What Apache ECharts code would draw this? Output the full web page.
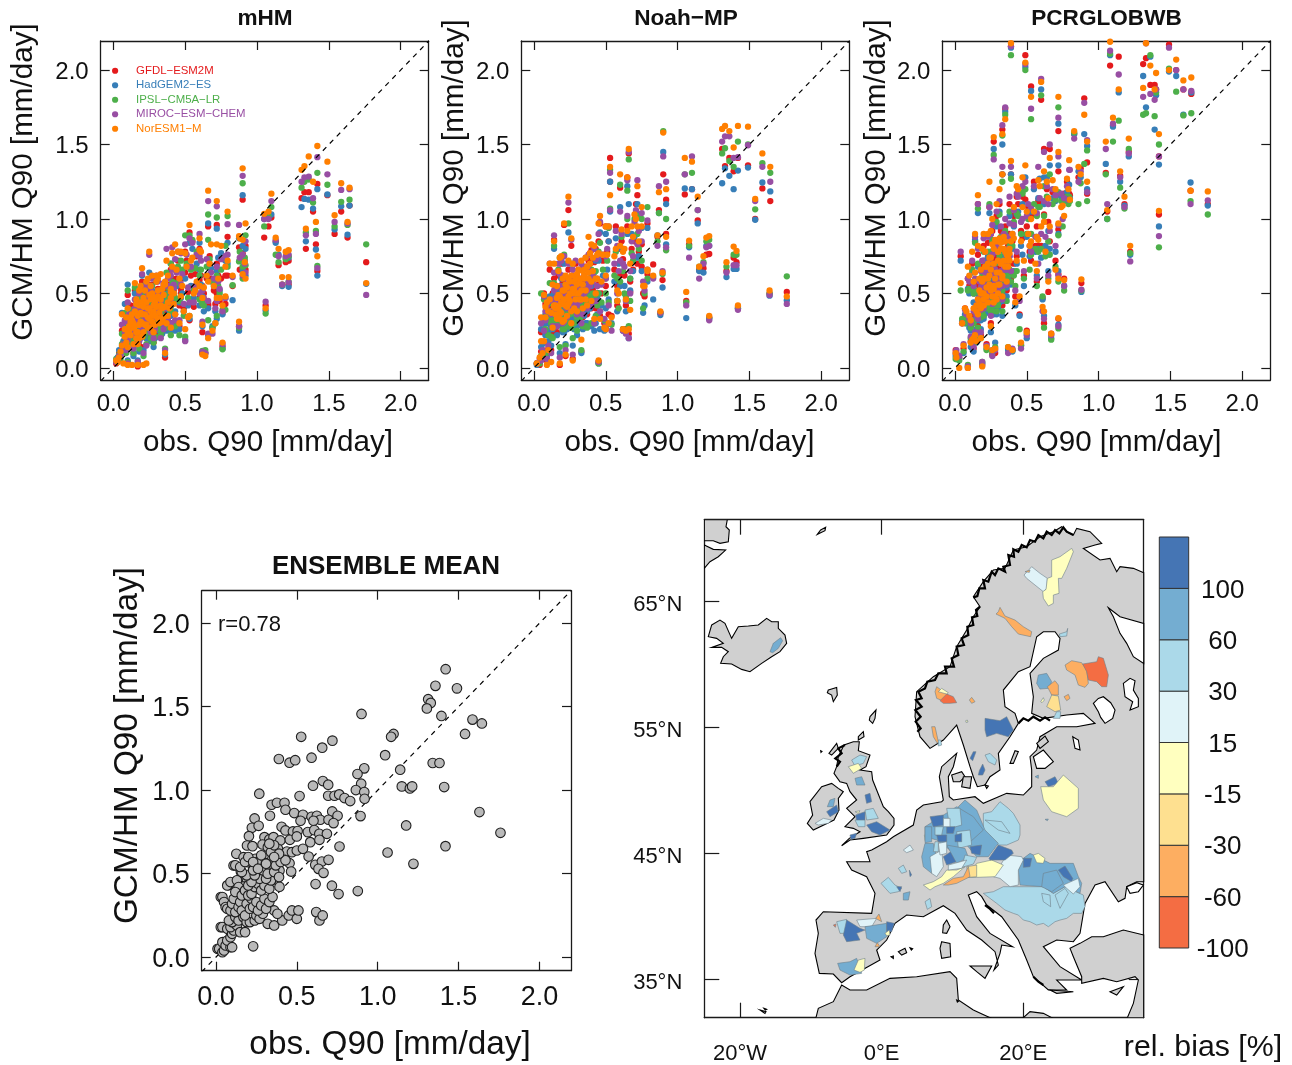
<!DOCTYPE html>
<html><head><meta charset="utf-8">
<style>html,body{margin:0;padding:0;background:#fff}#c{width:1292px;height:1065px}</style>
<script src="https://cdn.jsdelivr.net/npm/echarts@6/dist/echarts.min.js"></script>
</head><body><div id="c"></div>
<script>
// ---------- labels ----------
const models=['GFDL\u2212ESM2M','HadGEM2\u2212ES','IPSL\u2212CM5A\u2212LR','MIROC\u2212ESM\u2212CHEM','NorESM1\u2212M'];
const modelColors=['#e41a1c','#377eb8','#4daf4a','#984ea3','#ff7f00'];
const q90Ticks=[0,0.5,1,1.5,2];
const binLabels=['-100','-60','-30','-15','15','30','60','100',''];
const binColors=['#f46d43','#fdae61','#fee090','#ffffbf','#e0f3f8','#abd9e9','#74add1','#4575b4'];
const lonTicks=[-20,0,20], lonLabels=['20\u00b0W','0\u00b0E','20\u00b0E'];
const latTicks=[35,45,55,65];
// ---------- Q90: [obs, GFDL, HadGEM2, IPSL, MIROC, NorESM] ----------
const mHM=[
[1.76,.71,.565,.83,.49,.57],[1.644,1.09,1.09,1.13,1.2,1.21],[1.63,.875,.895,.96,.97,.98],[1.586,1.05,1.085,1.115,1.195,1.24],[1.54,.9,.93,.95,.98,1.025],[1.49,1.16,1.165,1.23,1.3,1.385],
[1.42,1.235,1.2,1.31,1.415,1.49],[1.42,.65,.62,.685,.67,.75],[1.41,.83,.795,.92,.9,.98],[1.39,1.05,1.07,1.11,1.14,1.25],[1.36,1.18,1.13,1.265,1.285,1.42],[1.34,.8,.85,.91,.89,.935],[1.33,1.18,1.135,1.25,1.28,1.355],[1.31,1.14,1.08,1.21,1.25,1.33],
[1.22,.72,.74,.75,.76,.79],[1.22,.56,.545,.58,.575,.61],[1.2,.71,.74,.73,.75,.78],[1.175,.56,.55,.56,.56,.61],[1.13,.85,.84,.76,.86,.875],[1.15,.69,.76,.71,.75,.8],[1.1,1.01,1.03,1.08,1.12,1.17],[1.08,.95,1.01,1.02,1,1.05],[1.05,.875,1,.95,1,1.035],[1.06,.42,.385,.365,.445,.4],
[.92,.82,.8,.89,.85,.97],[.9,1.13,1.16,1.24,1.29,1.34],[.92,.66,.62,.69,.64,.6],[.915,.7,.72,.74,.7,.71],[.875,.28,.25,.27,.28,.31],[.875,.81,.87,.715,.96,.885],[.9,.77,.66,.6,.62,.63],[.83,.55,.455,.555,.61,.62],[.795,.88,.84,1.02,.965,1.05],[.795,.62,.7,.68,.76,.72],[.78,.43,.47,.39,.47,.48],
[.76,.145,.13,.125,.16,.17],[.76,.37,.36,.39,.38,.42],[.72,.96,.935,1.01,1.085,1.12],[.72,.7,.65,.62,.68,.83],[.72,.5,.33,.35,.45,.47],[.75,.6,.77,.66,.73,.82],[.69,.27,.28,.27,.23,.25],[.68,.6,.67,.58,.64,.83],[.66,.95,.97,1.03,1.12,1.19],[.66,.43,.22,.86,.23,.2],[.64,.1,.1,.12,.1,.08],[.62,.1,.1,.115,.11,.09],[.62,.24,.28,.43,.31,.29],[.62,.55,.48,.44,.52,.47],[.6,.8,.84,.62,.9,.87],[.6,.59,.66,.55,.75,.79],[.57,.63,.52,.67,.55,.52],[.53,.91,.84,.89,.87,.96],[.53,.32,.33,.35,.44,.35],[.5,.64,.19,.21,.18,.26],[.5,.78,.6,.89,.83,.77],[.47,.5,.56,.72,.77,.78],[.46,.42,.44,.45,.6,.6],
[.43,.36,.38,.47,.73,.83],[.41,.49,.52,.55,.81,.77],[.4,.3,.35,.38,.42,.51],[.4,.66,.7,.7,.62,.53],[.37,.47,.42,.64,.8,.72],[.36,.07,.09,.13,.12,.1],[.36,.47,.46,.35,.41,.58],[.35,.3,.28,.3,.26,.34],[.33,.53,.48,.52,.47,.63],[.33,.24,.22,.22,.2,.33],[.31,.4,.33,.35,.43,.48],[.3,.58,.47,.44,.62,.62],[.29,.31,.27,.3,.37,.44],[.28,.17,.14,.17,.2,.24],[.27,.48,.42,.38,.5,.5],[.26,.37,.32,.35,.38,.38],[.25,.56,.64,.53,.76,.78],[.25,.27,.26,.24,.31,.33],[.24,.42,.45,.47,.41,.6],[.23,.2,.2,.16,.15,.03],[.23,.34,.3,.32,.37,.29],[.22,.46,.5,.4,.54,.52],[.21,.14,.12,.08,.1,.02],[.2,.25,.22,.27,.25,.3],[.2,.58,.62,.55,.63,.67],[.19,.37,.36,.32,.41,.44],[.18,.4,.44,.47,.5,.42],[.18,.15,.11,.13,.18,.2],[.17,.01,.05,.03,.04,.02],[.16,.3,.26,.25,.33,.24],[.15,.52,.5,.54,.46,.57],[.14,.1,.08,.1,.13,.16],[.14,.33,.27,.23,.37,.3],[.13,.2,.19,.18,.22,.02],[.12,.42,.36,.39,.35,.34],[.11,.24,.2,.17,.26,.28],[.1,.03,.05,.04,.03,.02],[.1,.49,.56,.52,.44,.4],[.09,.13,.16,.1,.12,.17],[.08,.36,.43,.37,.32,.26],[.07,.17,.18,.14,.16,.03],[.06,.25,.37,.23,.29,.36],[.05,.08,.1,.06,.09,.11],[.03,.05,.07,.04,.06,.04],[.02,.03,.05,.06,.04,.05],
[.3,.34,.3,.38,.46,.58],[.32,.42,.36,.46,.52,.41],[.28,.3,.29,.27,.34,.38],[.27,.2,.18,.22,.28,.35],[.24,.28,.24,.27,.33,.4],[.22,.27,.25,.29,.35,.36],[.21,.34,.3,.33,.39,.47],[.19,.22,.2,.26,.28,.31],[.17,.32,.28,.35,.38,.35],[.16,.18,.17,.22,.24,.2],[.34,.38,.41,.39,.49,.53],[.38,.43,.4,.46,.55,.44],[.42,.44,.47,.5,.56,.43],[.26,.45,.49,.42,.52,.46],[.31,.28,.26,.31,.38,.33],[.35,.44,.49,.43,.55,.49],
[.04,.1,.12,.09,.08,.07],[.06,.12,.14,.16,.12,.15],[.08,.2,.18,.22,.24,.21],[.09,.3,.26,.28,.31,.34],[.1,.17,.16,.14,.19,.14],[.11,.34,.3,.33,.36,.25],[.12,.27,.23,.25,.28,.22],[.13,.3,.27,.33,.35,.32],[.14,.22,.2,.18,.24,.27],[.15,.38,.35,.36,.4,.38],[.16,.42,.39,.41,.44,.43],[.17,.2,.17,.19,.22,.16],[.18,.28,.25,.27,.31,.29],[.19,.49,.46,.5,.52,.55],[.2,.33,.3,.32,.36,.36],[.21,.26,.24,.21,.29,.24],[.22,.38,.35,.37,.42,.44],[.23,.52,.48,.5,.57,.58],[.24,.3,.26,.24,.34,.34],[.25,.44,.4,.41,.47,.49],[.26,.21,.18,.2,.24,.27],[.27,.56,.52,.55,.6,.62],[.28,.38,.33,.35,.41,.42],[.29,.23,.2,.21,.26,.29],[.3,.42,.38,.4,.46,.47],[.31,.53,.48,.5,.58,.6],[.32,.33,.29,.31,.37,.37],[.33,.42,.38,.43,.45,.46],[.34,.27,.23,.25,.3,.31],[.35,.52,.49,.5,.57,.56],[.36,.38,.32,.34,.4,.41],[.37,.28,.25,.27,.3,.3],[.38,.56,.5,.54,.6,.62],[.39,.42,.38,.4,.44,.4],[.4,.28,.25,.22,.3,.27],[.41,.6,.55,.58,.66,.68],[.42,.52,.46,.49,.54,.5],[.43,.3,.25,.28,.32,.36],[.44,.6,.55,.57,.64,.66],[.45,.72,.66,.68,.78,.78],[.46,.28,.26,.22,.32,.3],[.47,.53,.47,.48,.56,.48],[.48,.6,.5,.66,.63,.55],[.49,.4,.38,.35,.43,.38],[.51,.72,.68,.7,.76,.68],[.52,.51,.42,.47,.54,.34],[.54,.62,.55,.66,.68,.72],[.55,.85,.8,.86,.84,.74],[.56,.41,.47,.52,.44,.5],[.58,.75,.7,.78,.76,.58],[.6,.47,.42,.46,.5,.55],[.61,.62,.56,.66,.72,.78],[.63,.5,.38,.42,.47,.54],[.65,.6,.62,.68,.73,.62],[.66,.42,.4,.32,.45,.58],[.67,.75,.68,.73,.7,.7],[.7,.52,.55,.57,.6,.55],[.71,.43,.38,.3,.4,.3],[.73,.62,.74,.55,.58,.6],[.74,.45,.52,.5,.53,.47],[.78,.62,.72,.82,.75,.68],[.88,.66,.72,.78,.74,.87],[.9,.73,.82,.68,.76,.86],
[.1,.2,.18,.16,.21,.23],[.12,.31,.28,.27,.32,.31],[.13,.26,.22,.24,.28,.36],[.15,.27,.23,.25,.29,.28],[.16,.33,.3,.29,.36,.46],[.17,.26,.22,.24,.29,.24],[.18,.34,.3,.31,.37,.52],[.19,.28,.25,.26,.3,.37],[.2,.41,.38,.37,.44,.21],[.21,.38,.33,.36,.42,.41],[.22,.3,.27,.28,.33,.29],[.23,.38,.35,.36,.42,.44],[.24,.46,.42,.43,.5,.27],[.25,.34,.3,.31,.37,.4],[.26,.52,.47,.49,.55,.55],[.27,.3,.26,.27,.33,.31],[.28,.43,.38,.4,.46,.47],[.29,.36,.32,.33,.39,.35],[.3,.47,.42,.44,.5,.41],[.31,.44,.4,.41,.48,.52],[.32,.28,.25,.26,.31,.3],[.33,.38,.33,.34,.41,.42],[.34,.46,.42,.44,.5,.4],[.36,.52,.47,.49,.55,.56],[.38,.3,.27,.29,.33,.35],[.4,.44,.38,.41,.46,.47]];
const noahMP=[
[1.76,.51,.455,.615,.43,.48],[1.64,.5,.485,.5,.49,.52],[1.645,1.12,1.185,1.31,1.25,1.35],[1.59,1.205,1.245,1.375,1.35,1.44],[1.54,1,.995,1.065,1.12,1.135],[1.49,1.36,1.345,1.5,1.495,1.62],[1.42,1.41,1.325,1.52,1.415,1.625],[1.42,.41,.4,.4,.39,.42],[1.41,.71,.665,.76,.69,.785],[1.39,.74,.665,.76,.69,.815],[1.39,1.32,1.2,1.35,1.41,1.48],[1.36,1.41,1.29,1.39,1.555,1.59],[1.33,1.355,1.34,1.475,1.555,1.625],[1.31,1.47,1.24,1.44,1.52,1.605],[1.34,.65,.61,.68,.64,.71],[1.22,.34,.33,.335,.32,.35],[1.22,.765,.82,.86,.82,.885],[1.2,.76,.82,.85,.81,.875],[1.18,.67,.64,.71,.7,.75],[1.15,.66,.65,.68,.6,.68],[1.14,.99,.97,1.06,1.06,1.15],[1.1,1.2,1.2,1.31,1.42,1.385],[1.05,1.165,1.205,1.3,1.3,1.41],[1.06,.45,.335,.44,.42,.51],[1.08,.83,.81,.82,.74,.855],
[.92,1.13,1.1,1,1.25,1.2],[.92,.9,.83,.79,.81,.88],[.9,1.3,1.45,1.59,1.42,1.58],[.88,.37,.355,.37,.37,.38],[.895,.59,.54,.63,.65,.64],[.87,1.06,1.04,1.04,1.22,1.18],[.86,.88,.89,.85,.82,.89],[.83,.695,.46,.61,.6,.62],[.79,.97,.94,1.08,.99,.65],[.79,.63,.58,.6,.66,.66],[.76,.5,.37,.4,.58,.55],[.75,.83,.94,1,1.04,1.08],[.72,1.16,1.1,1.02,1.26,1.22],[.72,.7,.74,.9,.83,.95],[.7,.85,.88,1,.98,1.03],[.68,.8,.9,.77,.85,.95],[.67,.51,.6,.45,.5,.39],[.66,.23,.2,.28,.2,.26],[.65,1.28,1.22,1.19,1.26,1.28],[.66,1.44,1.1,1.4,1.45,1.47],[.64,.26,.24,.25,.23,.25],[.62,.26,.25,.26,.25,.26],[.6,1.21,1.08,1.23,1.05,1.3],[.62,.73,.8,.65,.7,.78],[.59,.8,.7,.4,.65,.5],[.58,.55,.45,.6,.82,.45],[.57,.95,.87,.78,.92,.8],[.53,1.41,1.25,1.33,1.31,1.35],[.53,1.25,1.05,1.07,1.06,1.16],[.54,.35,.3,.29,.25,.34],[.52,.85,.85,.94,.95,.95],[.5,.95,.9,.6,.75,.95],[.5,.26,.3,.27,.28,.26],[.46,.97,.91,.84,.98,1.02],[.45,.04,.03,.03,.04,.05],[.45,.56,.5,.5,.75,.77],
[.43,.8,.72,.65,.73,.6],[.42,.3,.25,.48,.3,.33],[.4,.79,.55,.66,.6,.83],[.38,.72,.5,.56,.76,.88],[.36,.48,.3,.28,.52,.46],[.33,.11,.1,.12,.3,.19],[.34,.6,.45,.4,.68,.65],[.3,.38,.22,.34,.42,.5],[.29,.7,.42,.55,.72,.62],[.27,.06,.15,.2,.09,.05],[.26,.82,.56,.7,.86,.87],[.24,1.06,.91,.97,1.11,1.15],[.24,.47,.35,.5,.52,.43],[.22,.08,.16,.15,.12,.09],[.21,.96,.7,.76,.75,.97],[.2,.35,.26,.44,.53,.43],[.18,.02,.1,.14,.07,.03],[.18,.62,.55,.74,.63,.74],[.16,.28,.3,.36,.4,.33],[.14,.86,.8,.82,.89,.85],[.14,.45,.38,.42,.52,.41],[.12,.12,.15,.21,.1,.04],[.11,.66,.48,.57,.7,.7],[.1,.3,.25,.33,.38,.38],[.09,.05,.08,.1,.06,.02],[.08,.43,.36,.46,.38,.41],[.07,.17,.26,.33,.25,.18],[.07,.5,.3,.46,.48,.49],[.05,.11,.14,.08,.05,.18],[.05,.24,.26,.5,.3,.34],[.04,.02,.04,.03,.06,.07],[.02,.03,.02,.03,.03,.03],
[.3,.47,.38,.45,.52,.56],[.32,.5,.43,.41,.55,.6],[.28,.46,.37,.42,.5,.58],[.27,.42,.33,.4,.47,.53],[.25,.4,.34,.36,.44,.5],[.24,.37,.33,.38,.5,.48],[.23,.42,.35,.4,.47,.54],[.22,.36,.3,.33,.41,.42],[.2,.5,.4,.47,.52,.6],[.19,.34,.3,.32,.37,.44],[.18,.41,.33,.38,.44,.38],[.17,.45,.36,.42,.45,.49],[.16,.24,.22,.3,.28,.35],[.15,.35,.28,.32,.36,.4],[.13,.5,.38,.43,.46,.56],[.35,.44,.35,.41,.5,.62],[.37,.46,.38,.44,.52,.68],[.39,.5,.4,.47,.55,.7],[.41,.52,.45,.44,.58,.74],[.44,.55,.47,.5,.6,.76],[.33,.42,.3,.36,.47,.46],[.26,.33,.28,.3,.39,.3],[.21,.3,.24,.26,.31,.32],
[.06,.12,.16,.08,.12,.1],[.08,.3,.22,.26,.32,.34],[.09,.4,.3,.36,.42,.44],[.1,.13,.18,.22,.15,.12],[.11,.42,.34,.38,.45,.46],[.12,.33,.28,.3,.36,.37],[.13,.24,.26,.2,.28,.27],[.14,.6,.5,.57,.64,.7],[.15,.5,.42,.46,.54,.42],[.16,.42,.38,.4,.48,.47],[.17,.62,.52,.66,.7,.65],[.18,.36,.3,.32,.38,.33],[.19,.7,.6,.74,.72,.75],[.2,.28,.24,.26,.3,.31],[.21,.46,.38,.42,.5,.52],[.22,.56,.46,.5,.6,.62],[.23,.3,.26,.28,.34,.35],[.24,.66,.55,.6,.7,.72],[.25,.52,.43,.46,.56,.58],[.26,.36,.3,.27,.4,.38],[.27,.62,.5,.55,.66,.7],[.28,.36,.26,.3,.42,.4],[.29,.54,.42,.48,.58,.6],[.3,.3,.28,.25,.36,.38],[.31,.6,.48,.52,.66,.66],[.32,.4,.3,.33,.45,.46],[.33,.66,.52,.56,.7,.72],[.34,.34,.26,.28,.36,.4],[.35,.55,.42,.46,.6,.6],[.36,.68,.55,.6,.74,.74],[.37,.36,.3,.27,.4,.42],[.38,.55,.42,.48,.58,.6],[.39,.7,.6,.64,.77,.77],[.4,.4,.28,.3,.42,.45],[.41,.6,.48,.5,.62,.65],[.42,.71,.6,.64,.8,.82],[.43,.4,.3,.35,.45,.5],[.44,.5,.36,.42,.55,.6],[.45,.85,.72,.78,.9,.97],[.46,.35,.26,.38,.38,.33],[.47,.5,.42,.44,.56,.58],[.48,.72,.62,.66,.76,.76],[.49,.3,.25,.32,.33,.27],[.5,.55,.4,.5,.6,.62],[.51,.78,.66,.72,.8,.76],[.52,.36,.46,.44,.42,.3],[.56,.66,.58,.62,.7,.75],[.58,.42,.38,.45,.5,.52],[.6,.62,.55,.58,.72,.82],[.61,.85,.8,.88,.9,.93],[.63,.62,.55,.5,.68,.8],[.64,.42,.38,.48,.45,.46],[.65,.95,.9,1,1.02,.92],[.67,.58,.52,.6,.65,.7],[.69,.66,.65,.72,.75,.88],[.71,1.1,1.04,1.02,1.06,1],[.73,.78,.75,.8,.92,.85],[.75,.68,.65,.72,.85,.95],[.77,.48,.42,.5,.52,.55],
[.14,.36,.3,.33,.39,.42],[.15,.42,.36,.4,.46,.36],[.16,.5,.42,.46,.54,.55],[.17,.38,.32,.35,.42,.41],[.18,.5,.42,.45,.55,.48],[.19,.42,.36,.39,.46,.37],[.2,.58,.5,.55,.62,.52],[.21,.4,.33,.36,.44,.46],[.22,.48,.42,.45,.52,.56],[.23,.36,.3,.32,.4,.41],[.24,.52,.44,.46,.56,.6],[.25,.44,.36,.4,.48,.45],[.26,.55,.48,.5,.6,.62],[.27,.46,.38,.42,.5,.5],[.28,.5,.42,.45,.54,.53],[.29,.4,.33,.36,.44,.46],[.3,.58,.5,.52,.62,.63],[.31,.46,.38,.4,.5,.5],[.32,.55,.45,.48,.6,.57],[.33,.52,.42,.45,.56,.52],[.34,.5,.4,.42,.54,.56],[.35,.58,.46,.5,.62,.66],[.36,.5,.4,.42,.54,.52],[.38,.6,.48,.5,.66,.64],[.4,.55,.42,.46,.58,.58]];
const pcrGlobwb=[
[1.76,1.1,1.09,1.03,1.125,1.185],[1.64,1.19,1.245,1.12,1.1,1.19],[1.645,1.84,1.85,1.71,1.86,1.95],[1.59,1.87,1.7,1.695,1.87,1.93],[1.54,2,1.96,1.855,2,2.07],[1.49,2.17,1.99,2.01,2.15,2],[1.42,1.42,1.365,1.5,1.42,1.57],[1.42,1.03,.95,.81,.885,1.055],[1.4,1.87,1.83,1.85,1.87,1.98],[1.39,1.9,1.6,1.69,1.8,1.87],[1.36,1.9,2.09,2.1,1.84,2.03],[1.33,2.08,1.75,1.71,2.18,2.18],[1.31,2.04,1.96,1.7,1.82,1.88],[1.22,.78,.76,.77,.715,.82],[1.21,1.45,1.42,1.47,1.44,1.54],[1.18,1.1,1.09,1.07,1.08,1.15],[1.15,1.29,1.25,1.21,1.28,1.32],[1.14,2.09,1.85,1.66,1.97,1.87],[1.1,1.63,1.62,1.52,1.64,1.68],[1.05,1.31,1.37,1.3,1.47,1.52],[1.08,2.03,2.1,2.11,2.13,2.19],[1.06,1.05,1,1,1.1,1.06],
[.92,1.38,1.49,1.46,1.53,1.52],[.92,1.17,1.2,1.12,1.18,1.25],[.9,1.81,1.57,1.37,1.78,1.7],[.88,.57,.51,.52,.525,.595],[.875,1.34,1.28,1.24,1.32,1.3],[.86,1.28,1.32,1.1,1.25,1.35],[.83,1.57,1.57,1.58,1.54,1.59],[.795,1.17,1.23,1.15,1.33,1.395],[.79,1.16,1.14,1.1,1.13,1.2],[.76,.6,.55,.52,.55,.59],[.75,1.15,1.14,.95,1,1.09],[.72,1.59,1.64,1.75,1.68,1.82],[.72,1.32,1.36,1.18,1.42,1.45],[.72,.33,.29,.265,.28,.335],[.72,.93,.9,.89,.96,.97],[.72,.63,.65,.58,.62,.6],[.7,1.15,1.12,1.13,1.16,1.2],[.67,.23,.2,.19,.22,.23],[.66,1.47,1.36,1.3,1.5,1.41],[.65,.51,.65,.6,.62,.58],[.65,.98,.92,.85,1.1,1.14],[.62,1.47,1.28,1.22,1.45,1.32],[.62,.3,.35,.27,.33,.38],[.61,.47,.46,.48,.38,.41],[.6,1.8,1.87,1.83,1.94,1.92],[.58,1.12,1.14,1.08,1.35,1.26],[.58,.82,.8,.78,.7,.86],[.57,.95,.88,1.02,1.04,.88],[.53,1.89,1.86,1.67,1.74,1.82],[.53,1.02,1.05,.9,1.07,1],[.52,.78,.75,.66,.82,.82],[.5,.25,.2,.23,.22,.24],[.49,2.1,2.02,2,2.04,2.05],[.49,1.13,1.28,1.2,1.25,1.36],[.47,.87,.76,1.17,1,1.08],[.45,.36,.35,.26,.45,.48],[.46,.15,.16,.15,.13,.17],
[.43,1.15,1.03,1.04,1.17,1.22],[.41,.7,.65,.62,.96,.87],[.4,.12,.11,.12,.13,.12],[.39,2.16,2.15,2.1,2.16,2.18],[.39,1.3,1.3,1.27,1.35,1.39],[.38,.9,.75,.82,.97,.77],[.37,.13,.12,.14,.1,.14],[.35,1.74,1.72,1.7,1.75,1.67],[.35,.72,.62,.7,.78,.78],[.33,1.6,1.5,1.56,1.63,1.57],[.33,1.3,1.3,1.25,1.35,1.3],[.32,.6,.58,.5,.65,.8],[.31,1.1,1.05,1.03,1.12,1.2],[.29,.72,.55,.62,.82,.85],[.28,.1,.17,.14,.12,.13],[.27,1.52,1.47,1.43,1.4,1.55],[.27,.65,.6,.55,.67,.8],[.26,.09,.12,.1,.08,.12],[.25,.3,.24,.38,.35,.28],[.25,.9,.78,.75,.9,.92],[.24,1.08,1.04,1.1,1.08,1.25],[.23,.42,.38,.45,.5,.6],[.22,.16,.13,.12,.15,.14],[.2,.82,.72,.78,.87,.9],[.2,.36,.33,.35,.4,.5],[.19,.02,.03,.04,.04,.01],[.18,.22,.26,.2,.24,.2],[.18,.6,.53,.58,.65,.66],[.16,1.1,1.04,1.07,1.1,1.16],[.15,.3,.26,.33,.35,.42],[.14,.85,.86,.84,.88,.9],[.13,.5,.44,.5,.55,.58],[.13,.13,.11,.16,.14,.2],[.1,.3,.27,.32,.33,.35],[.09,.6,.53,.52,.6,.68],[.09,0,.01,.02,.01,0],[.07,.4,.36,.3,.39,.4],[.06,.13,.1,.11,.16,.15],[.05,.3,.31,.33,.3,.3],[.04,.75,.72,.52,.78,.57],[.03,.07,.06,.05,.08,.0],[.01,.1,.06,.08,.12,.07],[.005,.12,.08,.06,.1,.1],
[.3,.58,.48,.52,.62,.72],[.31,.5,.44,.47,.56,.64],[.28,.55,.47,.5,.58,.6],[.27,.42,.36,.44,.5,.53],[.26,.72,.62,.67,.76,.83],[.24,.5,.44,.46,.55,.56],[.23,.62,.52,.58,.66,.7],[.22,.44,.37,.42,.48,.48],[.21,.52,.46,.44,.55,.6],[.2,.42,.35,.4,.44,.42],[.19,.46,.4,.38,.5,.5],[.18,.35,.32,.34,.39,.4],[.17,.44,.37,.4,.47,.43],[.16,.28,.25,.27,.33,.36],[.15,.38,.32,.36,.42,.38],[.14,.2,.18,.22,.24,.22],[.12,.14,.13,.17,.18,.19],[.11,.18,.14,.2,.21,.17],[.34,.66,.58,.62,.7,.8],[.36,.62,.56,.6,.68,.72],[.37,.72,.6,.68,.8,.74],[.33,.56,.5,.52,.6,.6],[.29,.4,.36,.38,.46,.46],[.26,.4,.36,.38,.43,.48],[.25,.62,.52,.56,.66,.66],
[.08,.33,.3,.34,.36,.38],[.1,.55,.5,.53,.58,.62],[.11,.28,.25,.27,.3,.32],[.12,.7,.64,.66,.72,.78],[.13,.36,.32,.3,.38,.4],[.14,.56,.5,.52,.6,.64],[.15,.2,.17,.19,.23,.18],[.16,.76,.68,.7,.8,.82],[.17,.55,.48,.5,.58,.6],[.18,.46,.4,.42,.5,.5],[.19,.68,.6,.62,.72,.8],[.2,.55,.5,.52,.58,.6],[.21,.72,.66,.62,.78,.78],[.22,.62,.52,.55,.66,.68],[.23,.84,.75,.78,.88,.9],[.24,.68,.6,.62,.72,.74],[.25,.46,.4,.42,.5,.52],[.26,.92,.85,.86,.96,1],[.27,.48,.42,.44,.52,.55],[.28,.74,.66,.7,.78,.86],[.29,1.02,.95,.98,1.05,1.1],[.3,.5,.43,.45,.52,.56],[.31,.8,.72,.75,.85,.87],[.32,.92,.85,.88,.95,.7],[.33,.42,.35,.38,.46,.48],[.34,.85,.75,.78,.9,.88],[.35,.95,.9,.92,1,.68],[.36,.52,.48,.45,.56,.58],[.37,.82,.75,.78,.88,.76],[.38,1.1,1.02,1.05,1.15,.72],[.39,.6,.56,.58,.65,.85],[.4,.85,.8,.82,.9,.9],[.41,1.02,.95,.98,1.06,1.08],[.42,.48,.42,.55,.52,.44],[.43,.75,.7,.65,.78,.72],[.44,1.1,1.05,1.02,1.15,1.2],[.46,.92,.82,.9,.98,.85],[.47,1.15,1.1,1.18,1.22,1.28],[.48,.62,.55,.6,.65,.72],[.5,.95,.88,.9,1.02,1.05],[.51,1.08,1.05,1,1.1,.9],[.53,.72,.8,.76,.78,.85],[.55,1.25,1.2,1.1,1.22,1.05],[.56,.82,.78,.8,.88,.7],[.57,.58,.62,.55,.6,.65],[.59,1.1,1.27,1.08,1.14,1.22],[.6,.82,.74,.8,.9,.95],[.62,1.03,1.1,1.02,1.12,.98],[.63,.8,.82,.75,.88,.78],[.64,1.2,1.28,1.15,1.22,1.25],[.66,.85,.8,.76,.92,.95],[.68,1.18,1.14,1.1,1.2,1.26],[.7,.72,.78,.68,.82,.66],[.74,1.16,1.15,1.12,1.17,1.08],[.76,1.17,1.12,1.13,1.14,1.02],[.78,1.25,1.18,1.15,1.22,1.27],[.8,1.16,1.14,1.12,1.33,1.13],
[.16,.42,.36,.38,.46,.46],[.17,.36,.32,.34,.4,.52],[.18,.5,.44,.46,.54,.41],[.19,.4,.35,.36,.44,.58],[.2,.48,.42,.44,.52,.46],[.21,.6,.52,.54,.64,.68],[.22,.42,.38,.4,.46,.54],[.23,.5,.44,.46,.54,.44],[.24,.6,.52,.55,.64,.62],[.25,.52,.46,.48,.56,.74],[.26,.48,.42,.44,.52,.54],[.27,.58,.5,.52,.62,.7],[.28,.62,.55,.58,.66,.48],[.29,.52,.46,.48,.56,.64],[.3,.68,.6,.62,.72,.78],[.31,.55,.48,.5,.6,.56],[.32,.65,.58,.6,.7,.84],[.33,.5,.45,.47,.55,.62],[.34,.62,.55,.58,.66,.72],[.35,.72,.65,.68,.78,.85],[.36,.6,.54,.56,.66,.76],[.37,.66,.6,.62,.72,.68],[.38,.7,.64,.66,.75,.8],[.3,.46,.4,.42,.5,.5],[.27,.45,.4,.42,.48,.44]];
// ensemble mean: [observed, simulated]
const ensemble=[[1.42,1.725],[1.357,1.625],[1.49,1.61],[1.312,1.545],[1.328,1.523],[1.304,1.49],[1.394,1.445],[.9,1.457],[1.586,1.423],[1.644,1.4],[1.54,1.337],[1.098,1.337],[1.083,1.32],[.527,1.32],[.72,1.297],[.657,1.255],[.591,1.195],[1.046,1.21],[.389,1.187],[.455,1.165],[.49,1.18],[1.34,1.163],[1.382,1.163],[.917,1.131],[.875,1.097],[1.139,1.123],[.661,1.055],[.694,1.033],[.6,1.027],[.898,1.039],[1.149,1.023],[1.199,1.011],[1.213,1.023],[1.411,1.019],[.865,1.001],[.917,.989],[.919,.949],[.268,.979],[.517,.965],[.694,.967],[.733,.967],[.762,.975],[.795,.953],[.83,.935],[.344,.913],[.377,.925],[.424,.925],[.43,.883],[.719,.873],[1.629,.869],[.484,.863],[.538,.853],[.591,.841],[.624,.847],[.645,.823],[.334,.847],[.239,.831],[.523,.817],[.603,.817],[.696,.823],[.752,.847],[.727,.803],[.894,.845],[.222,.775],[.264,.787],[.406,.781],[1.176,.789],[.43,.759],[.476,.753],[.505,.755],[.568,.749],[.608,.761],[.639,.739],[.686,.739],[1.759,.745],[.204,.725],[.3,.719],[.33,.705],[.356,.719],[.398,.699],[.457,.703],[.5,.723],[.583,.689],[.64,.703],[.192,.669],[.226,.665],[.288,.675],[.321,.659],[.383,.649],[.764,.663],[1.419,.665],[1.061,.627],[.126,.619],[.356,.629],[.398,.609],[.439,.633],[.47,.629],[.5,.639],[.538,.649],[.573,.603],[.295,.609],[.171,.599],[.243,.589],[1.221,.559],[.109,.549],[.198,.569],[.253,.569],[.309,.563],[.336,.549],[.428,.583],[.455,.563],[.614,.553],[.655,.573],[.696,.583],[.634,.529],[.665,.505],[.154,.513],[.229,.523],[.305,.529],[.393,.519],[.465,.513],[.346,.499],[.181,.478],[.274,.474],[.134,.459],[.078,.432],[.342,.459],[.225,.434],[.616,.438],[.717,.428],[.393,.422],[.758,.378],[.877,.396],
[.01,.05],[.02,.05],[.04,.03],[.04,.09],[.05,.04],[.06,.07],[.09,.06],[.07,.1],[.1,.06],[.23,.065],[.03,.18],[.04,.18],[.07,.17],[.09,.12],[.1,.14],[.11,.16],[.09,.18],[.12,.2],[.13,.19],[.15,.15],[.18,.15],[.1,.21],[.08,.22],[.12,.24],[.14,.22],[.17,.24],[.19,.21],[.21,.21],[.24,.22],[.25,.25],[.27,.23],[.29,.26],[.32,.2],[.36,.19],[.41,.22],[.45,.25],[.47,.28],[.5,.23],[.51,.28],[.36,.28],[.38,.26],[.03,.36],[.04,.36],[.05,.33],[.06,.3],[.07,.29],[.09,.28],[.1,.32],[.11,.35],[.12,.27],[.14,.3],[.15,.33],[.16,.28],[.18,.25],[.19,.32],[.21,.29],[.22,.35],[.23,.3],[.25,.33],[.26,.28],[.28,.31],[.3,.35],[.31,.29],[.33,.33],[.35,.36],[.07,.43],[.09,.45],[.13,.46],[.14,.42],[.12,.39],[.16,.37],[.18,.4],[.2,.37],[.22,.38],[.24,.42],[.26,.44],[.28,.4],[.3,.43],[.33,.41],[.34,.46],[.27,.47],[.31,.47],[.2,.43],[.22,.45],[.19,.49],[.16,.51],[.24,.49],[.29,.52],[.32,.5],[.36,.51],[.39,.48],[.23,.52],[.37,.55],[.4,.57],[.43,.58],[.12,.55],[.15,.54],[.18,.57],[.2,.6],[.23,.57],[.26,.53],[.28,.61],[.31,.56],[.34,.63],[.36,.67],[.39,.62],[.33,.68],[.36,.6],[.62,.27],[.64,.22],[.66,.25]];
// ---------- map outlines, traced in map sheet units, converted to degrees below ----------
const toLon=u=>(u-575)/21.24, toLat=v=>65-(v-274)/37.8;
const landOutlines=[
[43,29,112,29,108,50,118,60,115,95,90,100,70,92,43,92],[43,105,70,118,107,120,85,140,60,155,43,175],[382,73,392,60,407,52,405,62,392,68],
[65,345,90,330,105,340,125,385,145,350,175,348,205,345,230,325,245,335,265,335,265,355,285,375,290,400,270,425,245,440,215,460,180,485,155,478,125,462,92,460,100,440,115,425,95,412,65,412,100,400,80,385,55,380],
[415,540,440,532,442,555,430,575,425,555,412,548],[540,620,558,600,555,625,548,640,538,630],[505,680,520,665,522,680,505,690],[417,730,440,700,445,715,425,735],[392,722,396,724,393,727],
[440,770,445,740,462,705,490,695,508,695,505,722,540,735,528,770,510,780,545,785,548,810,560,840,580,890,595,905,612,925,612,945,590,975,520,985,480,990,455,1007,478,985,510,965,490,955,465,950,495,920,470,895,500,870,480,845,470,820,450,815,432,790],
[360,875,395,830,425,820,445,835,460,845,445,865,447,900,432,930,370,960,352,940,368,915],
[1361,188,1330,175,1290,170,1280,185,1260,145,1230,150,1180,115,1215,105,1235,100,1200,65,1160,55,1150,75,1130,65,1115,50,1090,65,1050,80,1010,110,970,120,945,175,910,180,880,215,850,260,870,290,850,320,830,360,800,410,780,470,730,500,680,545,675,620,690,680,720,715,760,690,800,645,820,705,840,770,850,800,862,830,885,825,900,800,930,780,925,730,960,680,985,640,975,610,945,590,940,540,985,485,1020,470,1040,380,1060,365,1095,365,1110,385,1105,420,1060,445,1020,490,1030,560,1025,610,1060,625,1130,615,1180,610,1215,640,1160,650,1100,650,1050,680,1040,720,1020,740,1025,780,1025,830,1000,855,950,850,880,880,855,860,790,870,778,860,775,800,790,770,800,730,755,770,748,800,760,870,755,875,700,885,680,900,670,945,610,980,590,995,545,1020,530,1025,540,1055,470,1055,485,1080,530,1100,555,1150,545,1210,400,1205,378,1230,385,1270,375,1330,388,1390,430,1392,455,1418,480,1400,570,1350,560,1320,590,1290,615,1240,650,1215,700,1220,760,1187,795,1210,830,1260,875,1290,915,1325,925,1365,912,1380,930,1330,935,1305,968,1310,900,1270,860,1220,835,1155,860,1145,875,1160,890,1185,935,1220,985,1290,1010,1350,1030,1400,1075,1440,1130,1440,1100,1410,1175,1410,1110,1370,1060,1310,1100,1290,1150,1295,1170,1270,1185,1180,1215,1125,1245,1115,1285,1175,1305,1165,1310,1130,1340,1115,1361,1115],
[1361,1275,1300,1260,1240,1280,1205,1280,1170,1300,1140,1315,1150,1340,1175,1400,1175,1420,1240,1405,1280,1415,1335,1400,1345,1410,1330,1480,1312,1523,1361,1523],
[1260,1445,1300,1430,1280,1455],[378,1523,385,1495,430,1475,455,1425,480,1440,530,1440,600,1405,680,1400,780,1385,800,1405,805,1470,850,1500,900,1523],[1000,1523,1020,1505,1060,1510,1085,1523],
[755,1295,780,1300,782,1340,755,1345,750,1315],[770,1230,780,1250,770,1270,758,1268,760,1245],[840,1368,905,1368,885,1405,860,1385],[625,1325,645,1315,650,1328,635,1335],[603,1340,610,1338,610,1345],[660,1313,668,1316,664,1320],[1080,1440,1150,1445,1100,1450],[960,760,975,722,985,725,970,760],[1040,700,1065,678,1075,695,1050,715],[785,795,815,785,825,800,810,815,790,815],[820,800,845,800,840,835,815,830],[885,825,895,828,890,835],[210,1500,228,1505,225,1510],[222,1495,230,1498,226,1500],[800,1470,806,1473,802,1476]];
const waterOutlines=[[1255,293,1290,320,1361,340,1361,460,1330,440,1310,400,1290,370,1270,320],[1210,580,1225,565,1240,560,1262,578,1275,600,1268,625,1245,640,1232,622,1225,605],[1300,520,1320,505,1335,512,1330,540,1345,565,1345,590,1320,600,1328,575,1305,560],[1030,740,1060,720,1090,755,1065,775,1040,775],[1148,680,1165,690,1170,720,1155,715],[1310,1130,1340,1118,1360,1125,1345,1145,1320,1150]];
const coastLines=[[1150,75,1130,65,1120,52,1108,70,1095,60,1085,75,1070,65,1060,85,1045,75,1035,95,1020,90,1010,112,995,105,985,125,970,118,972,140,955,135,960,165,940,170,945,185,925,175,915,195,905,185,895,215,880,210,885,235,868,235,862,258,850,262],[870,290,858,300,862,318,846,322,850,345,832,350,835,375,815,385,822,405,800,410,805,435,785,445,792,470,765,470,770,490,745,490,735,510,712,515,705,535,685,545,695,565,678,570,695,590,676,600,692,620,677,635,692,655,682,665],[985,640,1000,625,1015,632,1030,620,1050,632,1065,622,1080,632],[440,770,450,755,436,745,455,730,445,715,465,705],[1030,1400,1045,1415,1060,1425],[885,1185,898,1195,912,1210]];
// basin outlines: [bias bin index, sheet row offset, outline]
const basins=[
[6,0,[240,425,250,400,272,383,278,392,265,415,248,428]],[4,0,[1002,195,1025,170,1050,190,1072,205,1070,235,1060,245,1035,225,1010,205]],[1,0,[1005,185,1020,180,1018,187]],
[3,0,[1085,150,1110,140,1145,115,1150,125,1130,175,1115,205,1105,205,1107,250,1090,255,1090,280,1075,288,1060,265,1058,245,1068,238,1072,205,1085,200]],
[1,0,[925,305,930,292,945,318,975,330,1000,350,1025,365,1022,380,985,372,965,350,945,325,918,312]],[5,0,[1108,372,1130,365,1133,355,1130,378,1110,380]],
[1,0,[1125,465,1145,452,1175,458,1190,480,1195,520,1185,532,1165,525,1155,495,1130,480]],[0,0,[1178,462,1220,455,1225,440,1240,445,1255,495,1250,530,1235,530,1220,515,1195,510,1190,485]],[1,0,[1122,560,1135,553,1140,565,1130,572]],
[6,0,[1045,495,1070,490,1085,515,1075,535,1050,537,1040,520]],[1,0,[1072,530,1095,512,1105,525,1105,555,1085,555]],[2,0,[1070,590,1085,555,1105,558,1112,600,1095,605]],[5,0,[1090,625,1100,605,1112,605,1110,625]],[3,0,[1052,575,1060,563,1063,570,1056,578]],
[1,0,[735,545,740,530,760,545,775,555,765,575,740,565]],[3,0,[745,545,755,535,775,548,770,552]],[0,0,[750,572,770,552,790,560,800,578,780,580,760,580]],[1,0,[838,570,845,562,855,575,845,580]],[3,0,[827,632,832,630,834,636,828,637]],[1,0,[725,650,735,650,745,695,742,700,730,680]],[5,0,[745,690,752,690,755,705,745,708]],
[7,0,[885,625,930,632,950,620,965,650,970,660,955,680,920,670,890,680,885,660]],[5,0,[885,735,900,730,920,750,915,765,895,755]],[7,0,[840,745,850,725,858,725,848,752]],[7,0,[868,782,878,762,885,780,878,795,865,795]],
[5,0,[485,750,510,735,530,740,520,760,495,768]],[3,0,[475,770,505,760,515,775,490,790]],
[6,780,[495,25,515,20,525,45,500,45]],[6,780,[420,90,435,85,430,110,412,110]],[7,780,[410,125,440,105,445,125,420,140]],[4,780,[375,160,400,145,425,150,415,160,385,165]],[7,780,[525,75,540,70,545,95,530,100]],[5,780,[525,120,550,115,565,145,530,150]],[7,780,[497,135,525,125,525,150,500,155]],[5,780,[495,150,525,150,525,170,505,170]],[7,780,[530,165,560,155,600,180,570,195,545,185]],[7,780,[480,195,500,190,495,205,483,208]],[3,780,[495,125,510,122,505,130]],
[5,780,[880,370,910,365,940,350,990,350,1060,350,1090,370,1125,350,1180,375,1185,410,1175,430,1150,430,1130,445,1110,450,1095,455,1075,470,1060,460,1040,465,1020,455,1000,450,985,435,970,430,945,420,920,400]],
[6,780,[985,300,1000,265,1020,250,1080,280,1150,280,1165,320,1175,340,1170,370,1125,350,1090,370,1060,350,990,345]],[6,780,[1060,310,1100,300,1120,340,1085,365,1055,350]],[5,780,[1055,370,1080,375,1082,410,1060,395]],[5,780,[1095,375,1125,355,1135,370,1110,415]],
[7,780,[1105,300,1125,288,1148,325,1145,335,1120,320]],[3,780,[1030,255,1045,250,1065,265,1060,280,1040,278]],[7,780,[1000,265,1025,265,1020,290,1000,292]],[4,780,[1120,345,1165,325,1170,350,1150,372,1130,355]],[4,780,[910,320,950,255,995,260,1000,270,985,300,985,345,960,350,930,325]],
[3,780,[860,280,905,270,940,285,915,320,860,322,835,322,850,295]],[2,780,[830,290,860,285,860,320,835,322]],[3,780,[700,345,730,335,755,320,770,300,800,300,825,290,790,320,760,340,735,350,720,360]],[1,780,[760,345,790,325,820,320,835,290,840,320,800,340,775,345]],
[5,780,[880,130,905,125,930,95,955,115,970,130,990,165,990,195,985,210,950,225,925,225,900,205,880,180]],[5,780,[885,150,935,155,960,190,925,180]],
[6,780,[805,110,825,90,860,120,885,180,925,220,895,260,860,260,830,225,800,170]],[7,780,[897,265,925,225,965,240,970,250,945,270,900,270]],[7,780,[840,230,875,225,870,255,845,250]],
[6,780,[695,260,705,220,730,220,740,260,725,310,700,290]],[4,780,[720,260,755,240,760,290,740,320,725,310]],[6,780,[705,170,800,110,850,140,880,180,830,225,780,240,740,210,705,200]],[5,780,[770,115,810,115,815,165,780,175]],[5,780,[800,185,840,180,845,225,805,235]],[7,780,[720,140,760,135,760,165,730,170]],[7,780,[740,195,770,195,770,215,745,215]],[7,780,[760,260,790,240,800,275,770,285]],[6,780,[770,225,825,235,835,262,800,280]],[4,780,[745,220,770,215,770,250,750,255]],[5,780,[825,255,860,262,850,282,815,292]],[4,780,[775,285,830,270,815,295,775,300]],[7,780,[770,170,795,170,790,190,770,190]],[3,780,[703,195,712,193,712,210,705,212]],[6,780,[705,170,725,170,725,215,705,218]],[5,780,[735,170,760,170,755,195,735,195]],[4,780,[760,145,780,145,780,170,760,170]],[7,780,[795,195,815,190,815,215,795,215]],[5,780,[735,215,745,215,745,245,730,245]],
[7,780,[1065,35,1095,20,1105,40,1075,50]],[6,780,[1035,20,1045,15,1045,25]],[3,780,[1052,50,1090,50,1120,15,1165,55,1165,115,1130,140,1085,125,1060,90]],[6,780,[1065,148,1075,147,1072,152]],
[4,780,[640,240,660,225,670,240,650,248]],[5,780,[625,295,640,285,650,305,635,310]],[7,780,[658,300,665,315,660,320]],[5,780,[573,340,595,322,615,345,635,355,625,365,600,370]],[7,780,[620,350,635,350,630,365]],[6,780,[640,370,660,365,655,390,640,390]],[5,780,[705,395,720,385,725,410,712,418]],
[5,780,[440,455,470,448,470,490,450,490]],[7,780,[470,450,510,475,525,480,500,490,510,510,470,515,460,495]],[4,780,[500,450,560,445,545,470,510,470]],[6,780,[525,470,590,460,590,500,560,520,530,505]],[7,780,[590,455,613,460,605,485,590,485]],[3,780,[585,490,598,480,600,495,590,497]],[1,780,[557,445,567,432,575,455]],[1,780,[555,530,562,518,570,530]],[0,780,[430,465,438,462,436,472]],
[6,780,[443,580,480,575,500,565,515,610,480,615,450,600]],[3,780,[492,600,505,570,525,565,523,600,510,607]]];

// ---------- helpers ----------
const FONT='"Liberation Sans",Arial,sans-serif';
const toDeg=(a,off=0)=>{const p=[];for(let i=0;i<a.length;i+=2)p.push([toLon(a[i]),toLat(a[i+1]+off)]);return p;};
const xMinQ=-0.088,xMaxQ=2.195,yMinQ=-0.081,yMaxQ=2.195;
const panels=[
 {name:'mHM',rows:mHM,l:100.7,t:41,w:328,h:339,fs:24,titleX:265,titleY:19,xt:268,yt:443,ylx:24,yly:182},
 {name:'Noah\u2212MP',rows:noahMP,l:521.3,t:41,w:328,h:339,fs:24,titleX:686,titleY:19,xt:689.5,yt:443,ylx:455,yly:178},
 {name:'PCRGLOBWB',rows:pcrGlobwb,l:942.3,t:41,w:328,h:339,fs:24,titleX:1106.5,titleY:19,xt:1096.5,yt:443,ylx:877,yly:178},
 {name:'ENSEMBLE MEAN',l:201.7,t:590.7,w:369.3,h:380,fs:27,titleX:386,titleY:567,xt:390,yt:1045,ylx:128,yly:745.5}];
const grid=[],xAxis=[],yAxis=[],series=[],graphic=[];
function frame(i,pos,min,max,ticks,fmt,fs,margin,kind,pad){
 const show=pos==='bottom'||pos==='left';
 const label={show:show,inside:false,customValues:ticks,formatter:pad?(v=>'{a|'+fmt(v)+'}'):fmt,fontFamily:FONT,fontSize:fs,color:'#111',margin};
 if(pad) label.rich={a:{fontFamily:FONT,fontSize:fs,color:'#111',padding:[pad,0,0,0]}};
 return {gridIndex:i,type:'value',position:pos,min,max,
  axisLine:{show:true,onZero:false,lineStyle:{color:'#1a1a1a',width:1.3}},
  axisTick:{show:true,inside:true,length:kind==='map'?15:9,customValues:ticks,lineStyle:{color:'#1a1a1a',width:1.2}},
  axisLabel:label,splitLine:{show:false}};
}
const fmtQ=v=>Number(v).toFixed(1);
const txt=(t,x,y,fs,opt={})=>graphic.push({type:'text',x,y,rotation:opt.rot||0,silent:true,z:50,style:{text:t,fontFamily:FONT,fontSize:fs,fontWeight:opt.bold?'bold':'normal',fill:'#111',align:opt.align||'center',verticalAlign:'middle'}});
panels.forEach((p,i)=>{
 grid.push({left:p.l,top:p.t,width:p.w,height:p.h,containLabel:false});
 xAxis.push(frame(i,'bottom',xMinQ,xMaxQ,q90Ticks,fmtQ,p.fs,i==3?13:12),frame(i,'top',xMinQ,xMaxQ,q90Ticks,fmtQ,p.fs,10));
 yAxis.push(frame(i,'left',yMinQ,yMaxQ,q90Ticks,fmtQ,p.fs,12,null,4),frame(i,'right',yMinQ,yMaxQ,q90Ticks,fmtQ,p.fs,10));
 const refLine={type:'line',xAxisIndex:i*2,yAxisIndex:i*2,data:[[xMinQ,xMinQ],[xMaxQ,xMaxQ]],symbol:'none',silent:true,clip:true,z:i==3?2:10,lineStyle:{color:'#000',width:1.2,type:[5,5]}};
 if(p.rows){
  models.forEach((m,k)=>series.push({type:'scatter',name:m,xAxisIndex:i*2,yAxisIndex:i*2,symbolSize:6.3,clip:true,z:3+k*0.1,silent:true,itemStyle:{color:modelColors[k],opacity:1},data:p.rows.map(r=>[r[0],r[k+1]])}));
 }else{
  series.push({type:'scatter',xAxisIndex:i*2,yAxisIndex:i*2,symbolSize:9.6,clip:true,z:4,silent:true,itemStyle:{color:'#b9b9b9',borderColor:'#1e1e1e',borderWidth:1.1,opacity:1},data:ensemble});
 }
 series.push(refLine);
 txt(p.name,p.titleX,p.titleY,i==3?26:22.6,{bold:true});
 txt('obs. Q90 [mm/day]',p.xt,p.yt,i==3?33.3:29.6);
 txt('GCM/HM Q90 [mm/day]',p.ylx,p.yly,i==3?33.3:29.6,{rot:Math.PI/2});
});
txt('r=0.78',218,625,22,{align:'left'});
// ---------- map ----------
const lonLabel=v=>lonLabels[lonTicks.indexOf(v)];
const latLabel=v=>v+'\u00b0N';
const mapMinLon=toLon(43),mapMaxLon=toLon(1361),mapMinLat=toLat(1523),mapMaxLat=toLat(29);
grid.push({left:704.3,top:519.7,width:439.4,height:498});
xAxis.push(frame(4,'bottom',mapMinLon,mapMaxLon,lonTicks,lonLabel,22,25,'map'),frame(4,'top',mapMinLon,mapMaxLon,lonTicks,lonLabel,22,10,'map'));
yAxis.push(frame(4,'left',mapMinLat,mapMaxLat,latTicks,latLabel,22,22,'map',7),frame(4,'right',mapMinLat,mapMaxLat,latTicks,latLabel,22,10,'map'));
const layer=(polys,style,z)=>({type:'custom',xAxisIndex:8,yAxisIndex:8,clip:true,silent:true,z,
 data:polys.map((_,i)=>[i]),encode:{x:[],y:[]},
 renderItem:(params,api)=>({type:'polygon',shape:{points:polys[params.dataIndex].map(c=>api.coord(c))},style:style(params.dataIndex)})});
series.push(layer(landOutlines.map(a=>toDeg(a)),()=>({fill:'#d0d0d0',stroke:'#000',lineWidth:1.1}),2));
series.push(layer(waterOutlines.map(a=>toDeg(a)),()=>({fill:'#fff',stroke:'#000',lineWidth:1.1}),3));
series.push(layer(basins.map(b=>toDeg(b[2],b[1])),i=>({fill:binColors[basins[i][0]],stroke:'#6e7f8a',lineWidth:0.6}),4));
series.push({type:'custom',xAxisIndex:8,yAxisIndex:8,clip:true,silent:true,z:5,data:coastLines.map((_,i)=>[i]),encode:{x:[],y:[]},
 renderItem:(params,api)=>({type:'polyline',shape:{points:toDeg(coastLines[params.dataIndex]).map(c=>api.coord(c))},style:{fill:null,stroke:'#000',lineWidth:2.2}})});
// ---------- colour bar ----------
grid.push({left:1159.3,top:537,width:29.4,height:411});
xAxis.push({gridIndex:5,type:'value',min:0,max:1,show:false});
yAxis.push({gridIndex:5,type:'value',position:'right',min:0,max:8,interval:1,
 axisLine:{show:false},axisTick:{show:false},splitLine:{show:false},
 axisLabel:{show:true,fontFamily:FONT,fontSize:26,color:'#111',margin:34,align:'center',formatter:v=>'{a|'+binLabels[v]+'}',rich:{a:{fontFamily:FONT,fontSize:26,color:'#111',padding:[4,0,0,0]}}}});
series.push({type:'custom',xAxisIndex:10,yAxisIndex:10,silent:true,z:3,data:binColors.map((_,i)=>[0,i]),encode:{x:0,y:1},
 renderItem:(params,api)=>{const i=params.dataIndex,a=api.coord([0,i+1]),b=api.coord([1,i]);
  return {type:'rect',shape:{x:a[0],y:a[1],width:b[0]-a[0],height:b[1]-a[1]},style:{fill:binColors[i],stroke:'#333',lineWidth:1}};}});
txt('rel. bias [%]',1203,1048,30.3);
const chart=echarts.init(document.getElementById('c'),null,{renderer:'canvas'});
chart.setOption({animation:false,backgroundColor:'#fff',grid,xAxis,yAxis,series,graphic,
 legend:{show:true,left:112,top:65,orient:'vertical',padding:0,itemGap:3,itemWidth:32,itemHeight:6.2,icon:'circle',selectedMode:false,
  data:models.map((m,k)=>({name:m,textStyle:{color:modelColors[k]}})),textStyle:{fontFamily:FONT,fontSize:11.4,lineHeight:11.5}},tooltip:{show:false}});
</script></body></html>
